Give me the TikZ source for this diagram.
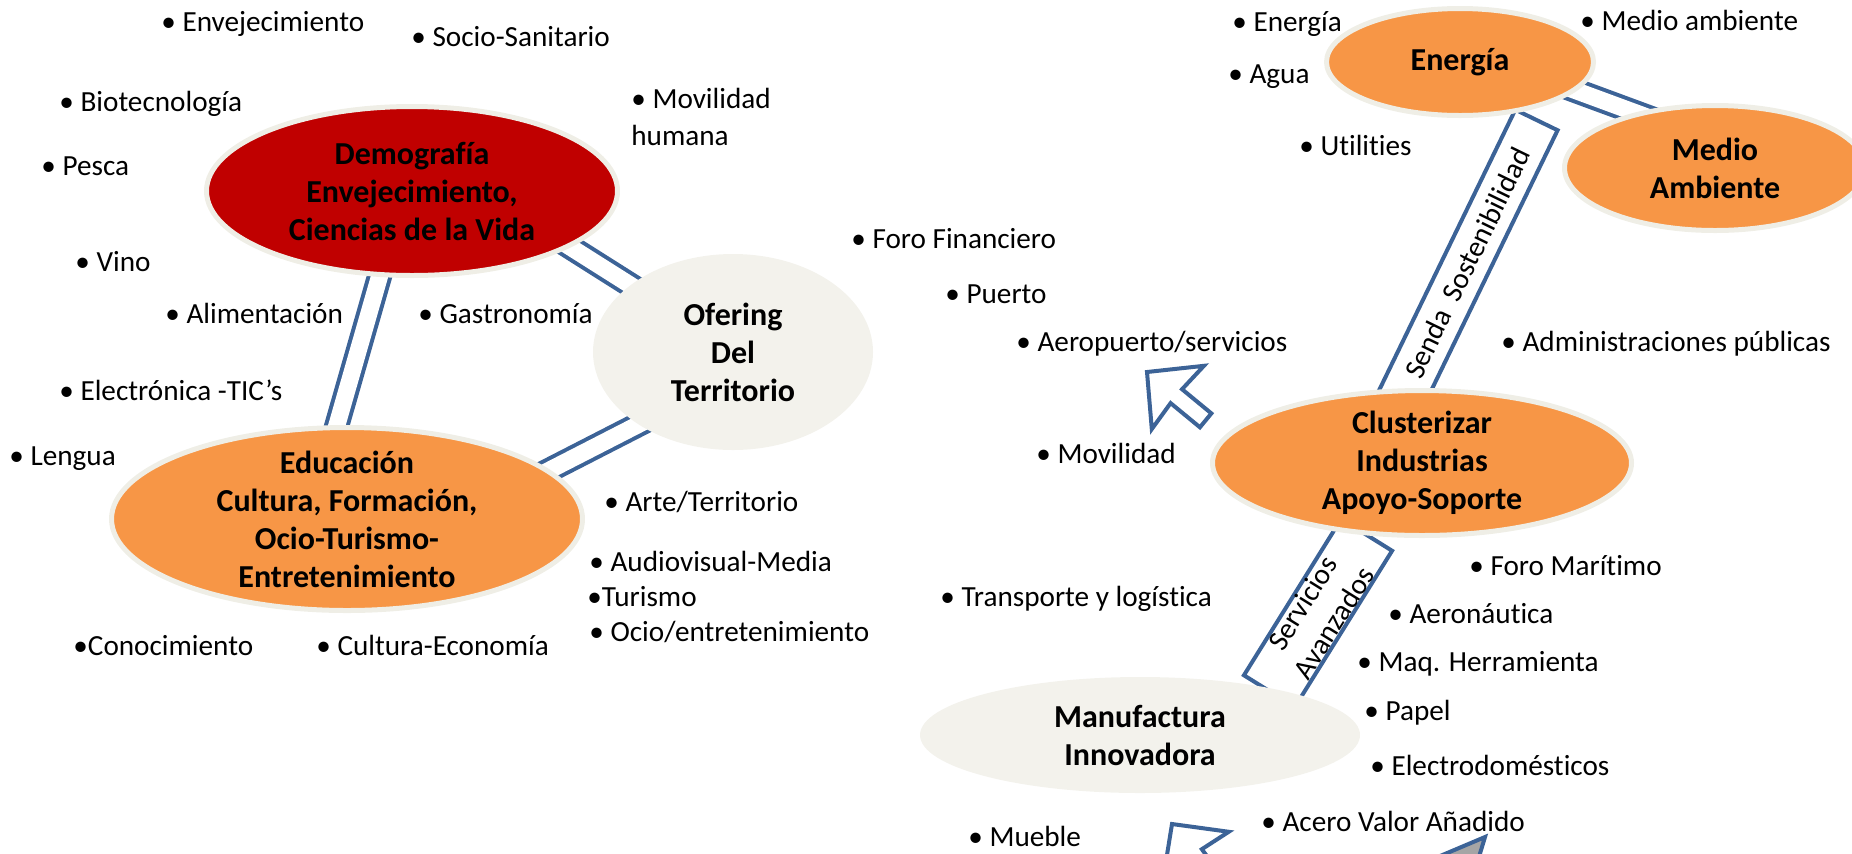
\documentclass[tikz,border=0pt]{standalone}
\usepackage{fontspec}
\setmainfont{Carlito}[Ligatures=NoCommon]
\usetikzlibrary{calc,backgrounds,shapes.geometric}
\definecolor{orng}{HTML}{F79646}
\definecolor{dred}{HTML}{C00000}
\definecolor{lite}{HTML}{F3F2EC}
\definecolor{bord}{HTML}{EFEEE6}
\definecolor{blu}{HTML}{3C6397}
\definecolor{gry}{HTML}{A5A5A5}
\newcommand\bfs{\fontsize{14.6pt}{18.5pt}\selectfont}
\newcommand\lfs{\fontsize{16pt}{19pt}\selectfont\bfseries}
\tikzset{
  ell/.style={ellipse, inner sep=0pt, outer sep=0pt},
  ebord/.style={draw=bord, line width=2.5pt},
  lbl/.style={align=center, font=\lfs, inner sep=0pt},
  bul/.style={anchor=base west, inner sep=0pt, font=\bfs},
  dbl/.style={draw=blu, line width=2pt, double=white, double distance=8.5pt},
  band/.style={draw=blu, line width=2pt, fill=white, inner sep=0pt, font=\bfs, align=center},
  harrow/.style={draw=blu, line width=2pt, fill=white, line join=miter},
  garrow/.style={draw=blu, line width=2pt, fill=gry, line join=miter}
}
\begin{document}
\begin{tikzpicture}[x=0.5pt,y=-0.5pt]
\useasboundingbox (0,0) rectangle (1852,853);
\clip (0,0) rectangle (1852,853);

% ellipses
\node[ell, ebord, fill=dred, minimum width=205.5pt, minimum height=84.5pt] (demo) at (412,191) {};
\node[ell, ebord, fill=orng, minimum width=235.5pt, minimum height=91.5pt] (educ) at (347,519) {};
\node[ell, fill=lite, minimum width=140pt, minimum height=98pt] (ofer) at (733,352) {};
\node[ell, ebord, fill=orng, minimum width=133.5pt, minimum height=53.5pt] (ener) at (1460,62) {};
\node[ell, ebord, fill=orng, minimum width=150.5pt, minimum height=62.5pt] (medio) at (1715,168) {};
\node[ell, ebord, fill=orng, minimum width=209.5pt, minimum height=72.5pt] (clus) at (1422,463) {};
\node[ell, fill=lite, minimum width=220pt, minimum height=58pt] (manu) at (1140,735) {};

% labels
\node[lbl] (demoT) at (demo) {Demografía\\Envejecimiento,\\Ciencias de la Vida};
\node[lbl] (educT) at (educ) {Educación\\Cultura, Formación,\\Ocio-Turismo-\\Entretenimiento};
\node[lbl] (oferT) at (ofer) {Ofering\\Del\\Territorio};
\node[lbl] (enerT) at (ener) {Energía};
\node[lbl] (medioT) at (medio) {Medio\\Ambiente};
\node[lbl] (clusT) at (clus) {Clusterizar\\Industrias\\Apoyo-Soporte};
\node[lbl] (manuT) at (manu) {Manufactura\\Innovadora};

% connectors and bands behind
\begin{scope}[on background layer]
\draw[dbl] ($(demo.center)+(-8,0)$) -- ($(educ.center)+(-37,0)$);
\draw[dbl] ($(demo.center)+(0,-44)$) -- ($(ofer.center)+(0,-2)$);
\draw[dbl] ($(educ.center)+(0,55)$) -- ($(ofer.center)+(0,24)$);
\draw[dbl] ($(ener.center)+(0,-14)$) -- ($(medio.center)+(0,-26)$);
\node[band, rotate=64.1, minimum width=159pt, minimum height=23.5pt] (senda) at (1467,263) {Senda\ \ Sostenibilidad};
\node[band, rotate=58.1, minimum width=92pt, minimum height=30pt] (serv) at (1318,613) {Servicios\\Avanzados};
\end{scope}

% block arrows
\begin{scope}[shift={(1147,372)}, rotate=-39.5]
\draw[harrow] (0,0) -- (40,-41) -- (38,-9) -- (76,-9) -- (76,9) -- (38,9) -- (40,41) -- cycle;
\end{scope}
\begin{scope}[shift={(1172,824)}, rotate=-53.5]
\draw[harrow] (0,0) -- (40,-41) -- (38,-9) -- (76,-9) -- (76,9) -- (38,9) -- (40,41) -- cycle;
\end{scope}
\draw[garrow] (1485,837) -- (1407,870) -- (1475,870) -- cycle;

% bullet texts
\node[bul] (t1) at (161,31.5) {• Envejecimiento};
\node[bul] (t2) at (411,46.5) {• Socio-Sanitario};
\node[bul] (t3) at (59,111.5) {• Biotecnología};
\node[bul] (t4) at (631,108.5) {\begin{tabular}[t]{@{}l@{}}• Movilidad\\humana\end{tabular}};
\node[bul] (t5) at (41,175.5) {• Pesca};
\node[bul] (t6) at (75,271.5) {• Vino};
\node[bul] (t7) at (165,323.5) {• Alimentación};
\node[bul] (t8) at (418,323.5) {• Gastronomía};
\node[bul] (t9) at (59,400.5) {• Electrónica -TIC’s};
\node[bul] (t10) at (9,465.5) {• Lengua};
\node[bul] (t11) at (604,511.5) {• Arte/Territorio};
\node[bul] (t12) at (589,571.5) {• Audiovisual-Media};
\node[bul] (t13) at (587,606.5) {•Turismo};
\node[bul] (t14) at (589,641.5) {• Ocio/entretenimiento};
\node[bul] (t15) at (73,655.5) {•Conocimiento};
\node[bul] (t16) at (316,655.5) {• Cultura-Economía};
\node[bul] (t17) at (851,248.5) {• Foro Financiero};
\node[bul] (t18) at (945,303.5) {• Puerto};
\node[bul] (t19) at (1016,351.5) {• Aeropuerto/servicios};
\node[bul] (t20) at (1036,463.5) {• Movilidad};
\node[bul] (t21) at (940,606.5) {• Transporte y logística};
\node[bul] (t22) at (968,846.5) {• Mueble};
\node[bul] (t23) at (1232,31.5) {• Energía};
\node[bul] (t24) at (1228,83.5) {• Agua};
\node[bul] (t25) at (1580,30.5) {• Medio ambiente};
\node[bul] (t26) at (1299,155.5) {• Utilities};
\node[bul] (t27) at (1501,351.5) {• Administraciones públicas};
\node[bul] (t28) at (1469,575.5) {• Foro Marítimo};
\node[bul] (t29) at (1388,623.5) {• Aeronáutica};
\node[bul] (t30) at (1357,671.5) {• Maq. Herramienta};
\node[bul] (t31) at (1364,720.5) {• Papel};
\node[bul] (t32) at (1370,775.5) {• Electrodomésticos};
\node[bul] (t33) at (1261,831.5) {• Acero Valor Añadido};
\end{tikzpicture}
\end{document}
